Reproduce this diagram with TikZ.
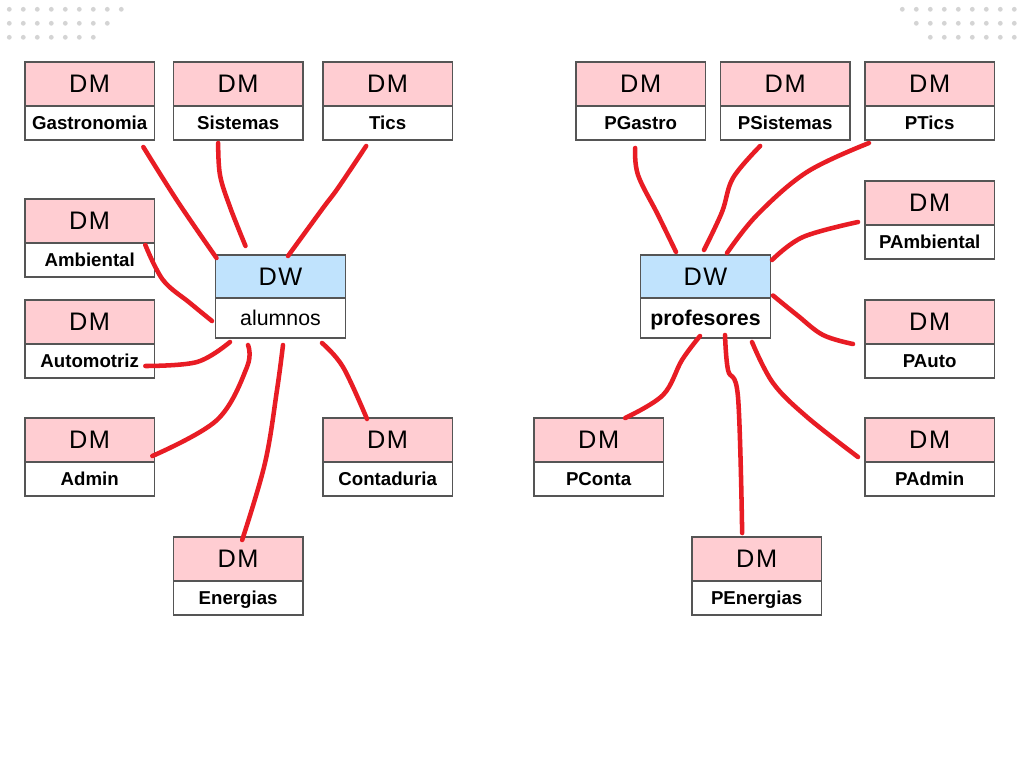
\documentclass[tikz,border=0pt]{standalone}
\usepackage{fontspec}
\setmainfont{Liberation Sans}
\newfontfamily\spacedfont[LetterSpace=6]{Liberation Sans}
\usetikzlibrary{positioning}
\definecolor{dmpink}{HTML}{FFCDD2}
\definecolor{dwblue}{HTML}{C0E3FD}
\definecolor{boxline}{HTML}{555555}
\definecolor{inkred}{HTML}{E81C24}
\definecolor{dotgrey}{HTML}{D4D4D4}
\tikzset{
  box/.style={draw=boxline, line width=1pt, inner sep=0pt, outer sep=0pt},
  dmtop/.style={box, fill=dmpink, minimum width=97pt, minimum height=33pt, font=\spacedfont\fontsize{19}{22}\selectfont},
  dmlab/.style={box, fill=white, minimum width=97pt, minimum height=25.5pt, text height=10pt, text depth=0pt, font=\fontsize{14}{16}\selectfont\bfseries},
  dwtop/.style={box, fill=dwblue, minimum width=97.5pt, minimum height=32.25pt, font=\spacedfont\fontsize{19}{22}\selectfont},
  dwlab/.style={box, fill=white, minimum width=97.5pt, minimum height=30pt, text height=11.5pt, text depth=0pt, font=\fontsize{16}{18}\selectfont},
  ink/.style={draw=inkred, line width=3.4pt, line cap=round, line join=round},
}
\begin{document}
\begin{tikzpicture}[x=0.75pt, y=-0.75pt]
\useasboundingbox (0,0) rectangle (1024,768);
\fill[white] (0,0) rectangle (1024,768);
% dots in the corners
\foreach \r in {0,1,2}{
  \pgfmathtruncatemacro\last{8-\r}
  \foreach \i in {0,...,\last}{
    \fill[dotgrey] (9.3+14*\i, 9.3+14*\r) circle[radius=2.4];
    \fill[dotgrey] (1014.3-14*\i, 9.3+14*\r) circle[radius=2.4];
  }
}
% alumnos
\node[dwtop, anchor=north west] (alumnosDW) at (215.5,255) {DW};
\node[dwlab, below=0pt of alumnosDW] (alumnos) {alumnos};
\node[dmtop, anchor=north west] (gastroDM) at (25,62) {DM};
\node[dmlab, below=0pt of gastroDM] (gastro) {Gastronomia};
\node[dmtop, anchor=north west] (sistemasDM) at (173.5,62) {DM};
\node[dmlab, below=0pt of sistemasDM] (sistemas) {Sistemas};
\node[dmtop, anchor=north west] (ticsDM) at (323,62) {DM};
\node[dmlab, below=0pt of ticsDM] (tics) {Tics};
\node[dmtop, anchor=north west] (ambientalDM) at (25,199) {DM};
\node[dmlab, below=0pt of ambientalDM] (ambiental) {Ambiental};
\node[dmtop, anchor=north west] (automotrizDM) at (25,300) {DM};
\node[dmlab, below=0pt of automotrizDM] (automotriz) {Automotriz};
\node[dmtop, anchor=north west] (adminDM) at (25,418) {DM};
\node[dmlab, below=0pt of adminDM] (admin) {Admin};
\node[dmtop, anchor=north west] (contaduriaDM) at (323,418) {DM};
\node[dmlab, below=0pt of contaduriaDM] (contaduria) {Contaduria};
\node[dmtop, anchor=north west] (energiasDM) at (173.5,537) {DM};
\node[dmlab, below=0pt of energiasDM] (energias) {Energias};
% profesores
\node[dwtop, anchor=north west] (profesoresDW) at (640.5,255) {DW};
\node[dwlab, below=0pt of profesoresDW, font=\fontsize{16}{18}\selectfont\bfseries] (profesores) {profesores};
\node[dmtop, anchor=north west] (pgastroDM) at (576,62) {DM};
\node[dmlab, below=0pt of pgastroDM] (pgastro) {PGastro};
\node[dmtop, anchor=north west] (psistemasDM) at (720.5,62) {DM};
\node[dmlab, below=0pt of psistemasDM] (psistemas) {PSistemas};
\node[dmtop, anchor=north west] (pticsDM) at (865,62) {DM};
\node[dmlab, below=0pt of pticsDM] (ptics) {PTics};
\node[dmtop, anchor=north west] (pambientalDM) at (865,181) {DM};
\node[dmlab, below=0pt of pambientalDM] (pambiental) {PAmbiental};
\node[dmtop, anchor=north west] (pautoDM) at (865,300) {DM};
\node[dmlab, below=0pt of pautoDM] (pauto) {PAuto};
\node[dmtop, anchor=north west] (padminDM) at (865,418) {DM};
\node[dmlab, below=0pt of padminDM] (padmin) {PAdmin};
\node[dmtop, anchor=north west] (penergiasDM) at (692,537) {DM};
\node[dmlab, below=0pt of penergiasDM] (penergias) {PEnergias};
\node[dmtop, anchor=north west] (pcontaDM) at (534,418) {DM};
\node[dmlab, below=0pt of pcontaDM] (pconta) {PConta};
% red strokes, alumnos
\draw[ink] plot[smooth, tension=0.6] coordinates {([shift={(-11,7)}]gastro.south east) (178,202) ([shift={(1,3)}]alumnosDW.north west)};
\draw[ink] plot[smooth, tension=0.6] coordinates {([shift={(-20,3)}]sistemas.south) (220,175) (230,207) ([shift={(30,-9)}]alumnosDW.north west)};
\draw[ink] plot[smooth, tension=0.6] coordinates {([shift={(-21.5,6)}]tics.south) (338,188) (323,208) ([shift={(7.5,1)}]alumnosDW.north)};
\draw[ink] plot[smooth, tension=0.6] coordinates {([shift={(-9,2)}]ambiental.north east) (163,280) (190,303) ([shift={(-3.5,3)}]alumnos.west)};
\draw[ink] plot[smooth, tension=0.6] coordinates {([shift={(-9,5)}]automotriz.east) (197,362) ([shift={(14.5,4)}]alumnos.south west)};
\draw[ink] plot[smooth, tension=0.6] coordinates {([shift={(32.5,7)}]alumnos.south west) (247,367) (217,420) ([shift={(-2,-6)}]adminDM.south east)};
\draw[ink] plot[smooth, tension=0.6] coordinates {([shift={(2.5,7)}]alumnos.south) (277,390) (265,463) ([shift={(4,3)}]energiasDM.north)};
\draw[ink] plot[smooth, tension=0.6] coordinates {([shift={(-23.5,5)}]alumnos.south east) (343,367) ([shift={(44,1)}]contaduriaDM.north west)};
% red strokes, profesores
\draw[ink] plot[smooth, tension=0.6] coordinates {([shift={(-5.5,8)}]pgastro.south) (638,175) (658,215) ([shift={(35.5,-3)}]profesoresDW.north west)};
\draw[ink] plot[smooth, tension=0.6] coordinates {([shift={(-25,6)}]psistemas.south) (733,178) (722,212) ([shift={(-1.5,-5)}]profesoresDW.north)};
\draw[ink] plot[smooth, tension=0.6] coordinates {([shift={(4,3)}]ptics.south west) (807,172) (757,215) ([shift={(21.5,-2)}]profesoresDW.north)};
\draw[ink] plot[smooth, tension=0.6] coordinates {([shift={(-7,-3)}]pambientalDM.south west) (803,237) ([shift={(1.5,5)}]profesoresDW.north east)};
\draw[ink] plot[smooth, tension=0.6] coordinates {([shift={(2.5,-2.5)}]profesoresDW.south east) (797,315) (823,335) ([shift={(-12,0)}]pautoDM.south west)};
\draw[ink] plot[smooth, tension=0.6] coordinates {([shift={(-18.5,4)}]profesores.south east) (773,383) (807,417) ([shift={(-7,-5)}]padminDM.south west)};
\draw[ink] plot[smooth, tension=0.6] coordinates {([shift={(19.5,-3)}]profesores.south) (728,370) (738,397) ([shift={(-14.5,-4)}]penergiasDM.north)};
\draw[ink] plot[smooth, tension=0.6] coordinates {([shift={(-5.5,-2)}]profesores.south) (682,360) (663,395) ([shift={(26.5,0)}]pcontaDM.north)};
\end{tikzpicture}
\end{document}
